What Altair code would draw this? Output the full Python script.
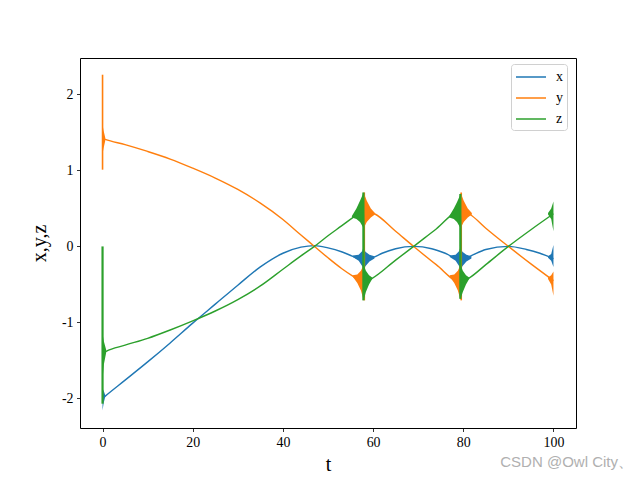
import altair as alt
import pandas as pd

SERIES = ["x", "y", "z"]
COLORS = ["#1f77b4", "#ff7f0e", "#2ca02c"]
X_TICKS = [0, 20, 40, 60, 80, 100]
Y_TICKS = [-2, -1, 0, 1, 2]
WATERMARK = "CSDN @Owl City、"

# smooth parts of each trajectory (t, value)
X_T = [0, 0.6, 5, 10, 15, 20, 25, 30, 35, 40, 44, 47, 50, 53, 55.5, 57.9, 60.2, 62, 65, 69, 73, 76, 79.4, 81.8, 85, 90, 94, 97, 100]
X_V = [-2.0, -1.97, -1.76, -1.52, -1.27, -1.01, -0.76, -0.51, -0.27, -0.09, -0.01, 0.01, -0.02, -0.07, -0.13, -0.18, -0.14, -0.09, -0.03, 0.0, -0.03, -0.09, -0.18, -0.12, -0.04, 0.0, -0.04, -0.09, -0.16]

Y_T = [0.15, 0.6, 5, 10, 15, 20, 25, 30, 35, 40, 44, 47, 50, 53, 55.5, 57.9, 57.95, 60.3, 65, 69, 74, 79.4, 79.45, 81.5, 85, 90, 95, 100]
Y_V = [1.42, 1.41, 1.34, 1.25, 1.15, 1.03, 0.9, 0.75, 0.57, 0.355, 0.15, 0.0, -0.15, -0.29, -0.39, -0.47, 0.47, 0.43, 0.2, 0.0, -0.24, -0.47, 0.47, 0.42, 0.24, 0.0, -0.23, -0.45]

Z_T = [0.2, 0.8, 5, 10, 15, 20, 25, 30, 35, 40, 44, 47, 50, 53, 55.5, 57.9, 57.95, 59.8, 65, 69, 74, 79.4, 79.45, 81.2, 85, 90, 95, 100]
Z_V = [-1.4, -1.38, -1.3, -1.21, -1.1, -0.98, -0.85, -0.7, -0.52, -0.3, -0.125, 0.0, 0.14, 0.27, 0.38, 0.47, -0.47, -0.42, -0.18, 0.0, 0.23, 0.47, -0.47, -0.42, -0.24, 0.0, 0.22, 0.43]

# chattering envelopes (t, low, high), one list per burst
X_BURST_T = [[0, 0.25, 0.6],
             [55.5, 56.8, 57.6, 57.9, 58.3, 59.2, 60.3],
             [77.0, 78.3, 79.1, 79.4, 79.8, 80.7, 81.8],
             [98.8, 99.5, 100]]
X_BURST_LO = [[-2.16, -2.06, -1.98],
              [-0.14, -0.19, -0.26, -0.32, -0.26, -0.2, -0.16],
              [-0.14, -0.19, -0.26, -0.33, -0.26, -0.2, -0.16],
              [-0.15, -0.19, -0.27]]
X_BURST_HI = [[-1.87, -1.9, -1.96],
              [-0.12, -0.11, -0.06, 0.0, -0.07, -0.11, -0.13],
              [-0.12, -0.11, -0.06, 0.0, -0.07, -0.11, -0.13],
              [-0.13, -0.1, 0.02]]

Y_BURST_T = [[0, 0.25, 0.6],
             [55.5, 56.5, 57.3, 57.9],
             [57.9, 58.6, 59.5, 60.4],
             [77.0, 78.0, 78.8, 79.4],
             [79.4, 80.1, 81.0, 81.9],
             [98.8, 99.5, 100]]
Y_BURST_LO = [[1.22, 1.3, 1.39],
              [-0.4, -0.48, -0.58, -0.71],
              [0.24, 0.32, 0.38, 0.42],
              [-0.4, -0.48, -0.58, -0.71],
              [0.24, 0.32, 0.38, 0.42],
              [-0.43, -0.5, -0.65]]
Y_BURST_HI = [[1.6, 1.52, 1.43],
              [-0.38, -0.37, -0.32, -0.24],
              [0.71, 0.6, 0.5, 0.44],
              [-0.38, -0.37, -0.32, -0.24],
              [0.71, 0.6, 0.5, 0.44],
              [-0.41, -0.38, -0.33]]

Z_BURST_T = [[0, 0.3, 0.8],
             [55.3, 56.3, 57.1, 57.9],
             [57.9, 58.4, 59.1, 59.8],
             [76.9, 77.9, 78.6, 79.4],
             [79.4, 79.9, 80.6, 81.3],
             [98.8, 99.5, 100]]
Z_BURST_LO = [[-1.75, -1.55, -1.4],
              [0.38, 0.36, 0.32, 0.24],
              [-0.71, -0.6, -0.5, -0.43],
              [0.38, 0.36, 0.32, 0.24],
              [-0.69, -0.6, -0.5, -0.43],
              [0.42, 0.36, 0.2]]
Z_BURST_HI = [[-1.15, -1.25, -1.36],
              [0.4, 0.5, 0.6, 0.71],
              [-0.24, -0.32, -0.38, -0.41],
              [0.4, 0.5, 0.58, 0.69],
              [-0.24, -0.32, -0.38, -0.41],
              [0.44, 0.5, 0.59]]

# vertical spikes (series, t, low, high)
SPIKE_S = ["y", "z", "x", "y", "z", "x", "y", "z"]
SPIKE_T = [0.0, 0.0, 57.95, 58.05, 57.85, 79.45, 79.55, 79.35]
SPIKE_LO = [1.01, -2.07, -0.32, -0.71, -0.71, -0.33, -0.71, -0.69]
SPIKE_HI = [2.26, 0.0, 0.7, 0.71, 0.71, 0.68, 0.71, 0.69]

LINES = {"x": (X_T, X_V), "y": (Y_T, Y_V), "z": (Z_T, Z_V)}
BURSTS = {"x": (X_BURST_T, X_BURST_LO, X_BURST_HI),
          "y": (Y_BURST_T, Y_BURST_LO, Y_BURST_HI),
          "z": (Z_BURST_T, Z_BURST_LO, Z_BURST_HI)}

SERIF = "Liberation Serif"

xscale = alt.Scale(domain=[-5, 105], nice=False, zero=False)
yscale = alt.Scale(domain=[-2.39, 2.48], nice=False, zero=False)
xaxis = alt.Axis(values=X_TICKS, title="t", titlePadding=6)
yaxis = alt.Axis(values=Y_TICKS, title="x,y,z", titlePadding=12,
                 labelExpr="'' + datum.value")
color = alt.Color("series:N", scale=alt.Scale(domain=SERIES, range=COLORS),
                  legend=alt.Legend(title=None, orient="none", legendX=431, legendY=6,
                                    symbolType="M-1.875,0H1.875", symbolSize=256,
                                    symbolStrokeWidth=1.5, symbolOffset=7,
                                    labelFont=SERIF, labelFontSize=14, labelColor="black",
                                    labelOffset=16, rowPadding=5, padding=4,
                                    fillColor="white", strokeColor="#d0d0d0",
                                    cornerRadius=3))

layers = []
for s in SERIES:
    bt, blo, bhi = BURSTS[s]
    rows = []
    for i, (tt, lo, hi) in enumerate(zip(bt, blo, bhi)):
        for a, b, c in zip(tt, lo, hi):
            rows.append({"series": s, "burst": i, "t": a, "lo": b, "hi": c})
    bdf = pd.DataFrame(rows)
    layers.append(alt.Chart(bdf).mark_area(opacity=1).encode(
        x=alt.X("t:Q", scale=xscale, axis=xaxis),
        y=alt.Y("lo:Q", scale=yscale, axis=yaxis),
        y2="hi:Q", color=color, detail="burst:N"))

    sdf = pd.DataFrame({"series": SPIKE_S, "t": SPIKE_T, "lo": SPIKE_LO, "hi": SPIKE_HI})
    sdf = sdf[sdf["series"] == s]
    layers.append(alt.Chart(sdf).mark_rule(strokeWidth=1.6 if s != "z" else 2.2).encode(
        x=alt.X("t:Q", scale=xscale, axis=xaxis),
        y=alt.Y("lo:Q", scale=yscale, axis=yaxis),
        y2="hi:Q", color=color))

    lt, lv = LINES[s]
    ldf = pd.DataFrame({"series": s, "t": lt, "v": lv, "i": list(range(len(lt)))})
    layers.append(alt.Chart(ldf).mark_line(strokeWidth=1.4, interpolate="monotone").encode(
        x=alt.X("t:Q", scale=xscale, axis=xaxis),
        y=alt.Y("v:Q", scale=yscale, axis=yaxis),
        color=color, order="i:Q"))

wm = alt.Chart(pd.DataFrame({"w": [WATERMARK]})).mark_text(
    align="right", baseline="middle", font="Liberation Sans", fontSize=15,
    color="#b0b0b0").encode(text="w:N", x=alt.value(553), y=alt.value(404))
layers.append(wm)

chart = alt.layer(*layers).properties(
    width=496, height=370,
    autosize=alt.AutoSizeParams(type="none"),
    padding={"left": 80, "top": 58, "right": 64, "bottom": 52},
    background="white",
).configure_view(stroke="black", strokeWidth=1).configure_axis(
    domain=False, grid=False, tickColor="black", tickSize=3.5, tickWidth=0.8,
    labelFont=SERIF, labelFontSize=13.9, labelColor="black", labelPadding=3.5,
    titleFont=SERIF, titleFontSize=20, titleFontWeight="normal", titleColor="black",
)

chart.save("out.html", embed_options={"renderer": "svg", "actions": False})
